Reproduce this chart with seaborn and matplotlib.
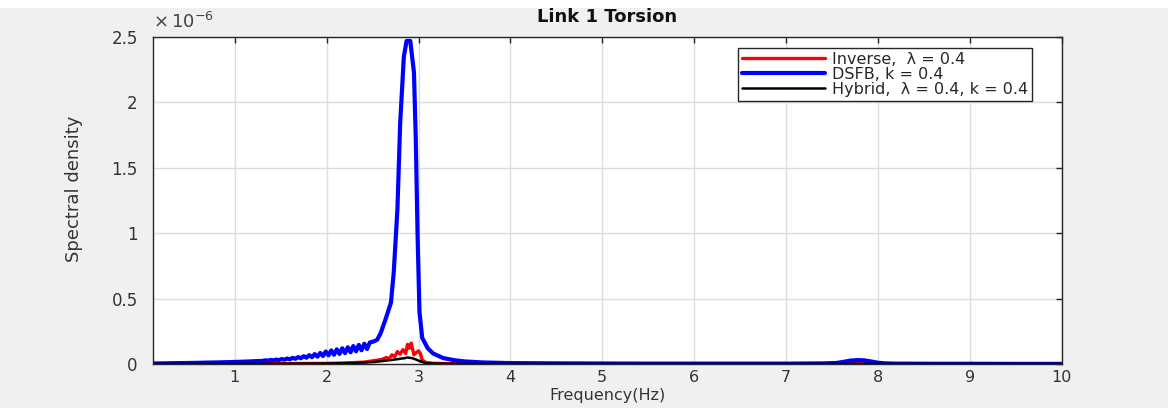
import numpy as np
import pandas as pd
import matplotlib
matplotlib.use("Agg")
import matplotlib.pyplot as plt
import seaborn as sns
from matplotlib.patches import Rectangle

# ---------------- data (spectral density in units of 1e-6) ----------------
dsfb_freq = [0.10, 0.20, 0.30, 0.40, 0.50, 0.60, 0.70, 0.80, 0.90, 1.00, 1.10, 1.20,
             1.30, 1.33, 1.36, 1.39, 1.42, 1.45, 1.48, 1.51, 1.54, 1.57, 1.60, 1.63,
             1.66, 1.69, 1.72, 1.75, 1.78, 1.81, 1.84, 1.87, 1.90, 1.93, 1.96, 1.99,
             2.02, 2.05, 2.08, 2.11, 2.14, 2.17, 2.20, 2.23, 2.26, 2.29, 2.32, 2.35,
             2.38, 2.41, 2.44, 2.47, 2.51, 2.55, 2.59, 2.64, 2.70, 2.73, 2.77, 2.80,
             2.84, 2.87, 2.91, 2.95, 2.97, 2.99, 3.01, 3.04, 3.10, 3.16, 3.27, 3.40,
             3.50, 3.70, 4.00, 4.50, 5.00, 5.50, 6.00, 6.50, 7.00, 7.40, 7.55, 7.62,
             7.70, 7.78, 7.85, 7.92, 8.00, 8.08, 8.20, 8.60, 9.00, 9.50, 10.00]
dsfb_psd = [0.004, 0.005, 0.006, 0.007, 0.008, 0.009, 0.011, 0.012, 0.014, 0.016, 0.018, 0.021,
            0.024, 0.028, 0.026, 0.031, 0.028, 0.034, 0.030, 0.038, 0.033, 0.042, 0.036, 0.047,
            0.040, 0.053, 0.044, 0.060, 0.048, 0.068, 0.052, 0.076, 0.056, 0.085, 0.061, 0.096,
            0.066, 0.104, 0.071, 0.112, 0.077, 0.120, 0.083, 0.128, 0.090, 0.137, 0.097, 0.146,
            0.105, 0.155, 0.115, 0.165, 0.172, 0.185, 0.240, 0.340, 0.470, 0.700, 1.180, 1.840,
            2.350, 2.470, 2.470, 2.230, 1.720, 0.970, 0.400, 0.200, 0.120, 0.080, 0.045, 0.028,
            0.020, 0.012, 0.007, 0.005, 0.004, 0.003, 0.003, 0.003, 0.003, 0.004, 0.008, 0.016,
            0.026, 0.030, 0.028, 0.020, 0.010, 0.005, 0.003, 0.002, 0.002, 0.001, 0.001]

inverse_freq = [0.10, 0.50, 1.00, 1.50, 2.00, 2.20, 2.40, 2.51, 2.60, 2.65, 2.68, 2.71,
                2.74, 2.77, 2.80, 2.83, 2.86, 2.88, 2.90, 2.92, 2.95, 2.98, 3.00, 3.02,
                3.04, 3.08, 3.15, 3.30, 3.60, 4.00, 5.00, 6.00, 7.00, 7.20, 7.40, 7.60,
                7.80, 8.00, 9.00, 10.00]
inverse_psd = [0.001, 0.001, 0.002, 0.003, 0.005, 0.008, 0.014, 0.025, 0.035, 0.050, 0.040, 0.070,
               0.055, 0.095, 0.075, 0.110, 0.080, 0.150, 0.120, 0.160, 0.070, 0.090, 0.100, 0.080,
               0.030, 0.012, 0.006, 0.003, 0.002, 0.001, 0.001, 0.001, 0.002, 0.004, 0.005, 0.004,
               0.002, 0.001, 0.001, 0.001]

hybrid_freq = [0.10, 0.50, 1.00, 1.50, 2.00, 2.30, 2.51, 2.60, 2.70, 2.78, 2.85, 2.88,
               2.93, 2.97, 3.02, 3.08, 3.20, 3.50, 4.00, 6.00, 8.00, 10.00]
hybrid_psd = [0.001, 0.001, 0.001, 0.002, 0.004, 0.008, 0.015, 0.022, 0.030, 0.038, 0.045, 0.050,
              0.045, 0.035, 0.020, 0.006, 0.003, 0.001, 0.001, 0.001, 0.001, 0.001]

labels = ["Inverse,  λ = 0.4", "DSFB, k = 0.4", "Hybrid,  λ = 0.4, k = 0.4"]
colors = ["#ff0000", "#0000ff", "#000000"]
x_ticks = [1, 2, 3, 4, 5, 6, 7, 8, 9, 10]
y_ticks = [0, 0.5, 1, 1.5, 2, 2.5]
y_tick_labels = ["0", "0.5", "1", "1.5", "2", "2.5"]

# ---------------- plot ----------------
sns.set_style("white")
plt.rcParams["font.family"] = ["DejaVu Sans"]
plt.rcParams["mathtext.fontset"] = "dejavusans"

fig = plt.figure(figsize=(11.68, 4.08), dpi=100, facecolor="#f0f0f0")
fig.add_artist(Rectangle((0, 0.98), 1, 0.02, transform=fig.transFigure,
                         facecolor="white", edgecolor="none"))
ax = fig.add_axes([0.131, 0.1078, 0.778, 0.8015])
ax.set_facecolor("white")

series = [(inverse_freq, inverse_psd, 2.4), (dsfb_freq, dsfb_psd, 3.0), (hybrid_freq, hybrid_psd, 1.8)]
for (f, p, lw), lab, col in zip(series, labels, colors):
    df = pd.DataFrame({"Frequency": f, "PSD": p})
    sns.lineplot(data=df, x="Frequency", y="PSD", color=col, linewidth=lw,
                 label=lab, ax=ax, sort=False, estimator=None)

ax.set_xlim(0.11, 10)
ax.set_ylim(0, 2.5)
ax.set_xticks(x_ticks)
ax.set_xticklabels([str(t) for t in x_ticks])
ax.set_yticks(y_ticks)
ax.set_yticklabels(y_tick_labels)
ax.grid(True, color="#dcdcdc", linewidth=1.0)
ax.tick_params(direction="in", length=4, width=1, colors="#262626",
               labelsize=12, top=True, right=True)
ax.tick_params(axis="y", pad=11)
ax.tick_params(axis="x", pad=4, labelsize=11.5)
for lbl in ax.get_xticklabels() + ax.get_yticklabels():
    lbl.set_color("#333333")
for s in ax.spines.values():
    s.set_color("#262626")
    s.set_linewidth(1.0)

ax.set_xlabel("Frequency(Hz)", fontsize=11.5, color="#333333")
ax.xaxis.set_label_coords(0.5, -0.073)
ax.set_ylabel("Spectral density", fontsize=13, color="#333333")
ax.yaxis.set_label_coords(-0.077, 0.535)
ax.set_title("Link 1 Torsion", fontsize=13, fontweight="bold", y=1.02, color="#111111")

ax.text(0.0, 1.015, "$\\times\\,10^{-6}$", transform=ax.transAxes, ha="left", va="bottom",
        fontsize=13, color="#444444")

leg = ax.legend(loc="upper right", bbox_to_anchor=(0.967, 0.967), fontsize=11.5,
                handlelength=5.2, labelspacing=0.0, borderpad=0.25, handletextpad=0.4,
                fancybox=False, framealpha=1, edgecolor="#262626", borderaxespad=0)
leg.get_frame().set_linewidth(1.0)

fig.savefig("out.png", dpi=100, facecolor=fig.get_facecolor())
